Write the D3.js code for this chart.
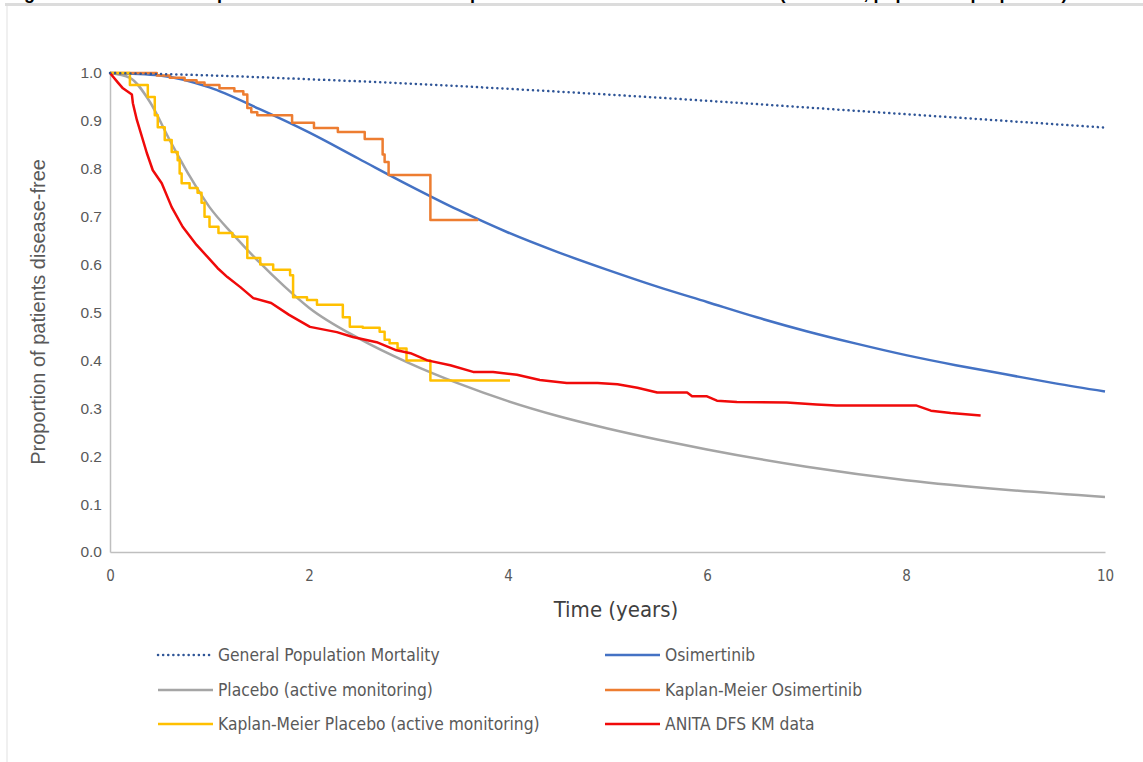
<!DOCTYPE html>
<html><head><meta charset="utf-8">
<script src="https://cdn.jsdelivr.net/npm/d3@7"></script>
<style>
html,body{margin:0;padding:0;background:#fff;}
svg{display:block;}
</style></head>
<body>
<svg id="chart" width="1143" height="762"></svg>
<script>
// ---- data ----
const titleText = "Figure 19: Survival extrapolations for osimertinib and placebo versus ANITA DFS KM data (ADAURA, population proportion)";
const xTicks = [0, 2, 4, 6, 8, 10];
const yTicks = [0, 0.1, 0.2, 0.3, 0.4, 0.5, 0.6, 0.7, 0.8, 0.9, 1.0];

const genPopT = [0, 1, 2, 3, 4, 5, 6, 7, 8, 9, 10];
const genPopS = [1.0, 0.995, 0.987, 0.978, 0.967, 0.955, 0.942, 0.928, 0.914, 0.9, 0.886];

const osiT = [0, 0.5, 1, 1.5, 2, 2.5, 3, 3.5, 4, 4.5, 5, 5.5, 6, 6.5, 7, 7.5, 8, 8.5, 9, 9.5, 10];
const osiS = [1.0, 0.995, 0.97, 0.925, 0.876, 0.821, 0.766, 0.714, 0.667, 0.626, 0.589, 0.554, 0.522, 0.49, 0.461, 0.435, 0.411, 0.39, 0.371, 0.352, 0.335];

const pboT = [0, 0.2, 0.4, 0.6, 0.8, 1, 1.25, 1.5, 1.75, 2, 2.5, 3, 3.5, 4, 4.5, 5, 5.5, 6, 7, 8, 9, 10];
const pboS = [1.0, 0.99, 0.94, 0.86, 0.785, 0.72, 0.66, 0.605, 0.555, 0.51, 0.446, 0.395, 0.352, 0.315, 0.284, 0.258, 0.235, 0.214, 0.178, 0.15, 0.13, 0.115];

const kmOsiT = [0, 0.47, 0.6, 0.75, 0.87, 0.95, 1.1, 1.25, 1.34, 1.38, 1.42, 1.48, 1.83, 2.05, 2.29, 2.56, 2.74, 2.76, 2.8, 3.22, 3.7];
const kmOsiS = [1.0, 0.995, 0.99, 0.985, 0.98, 0.975, 0.968, 0.962, 0.955, 0.927, 0.918, 0.912, 0.896, 0.885, 0.877, 0.862, 0.83, 0.814, 0.787, 0.693, 0.693];

const kmPboT = [0, 0.2, 0.38, 0.45, 0.48, 0.55, 0.62, 0.68, 0.7, 0.72, 0.8, 0.88, 0.92, 0.95, 1.0, 1.09, 1.23, 1.38, 1.51, 1.64, 1.81, 1.84, 1.98, 2.08, 2.34, 2.41, 2.54, 2.71, 2.76, 2.81, 2.89, 2.98, 3.22, 4.02];
const kmPboS = [1.0, 0.975, 0.95, 0.912, 0.887, 0.86, 0.835, 0.818, 0.79, 0.77, 0.76, 0.75, 0.729, 0.70, 0.679, 0.666, 0.658, 0.614, 0.6, 0.589, 0.578, 0.532, 0.526, 0.516, 0.49, 0.47, 0.468, 0.46, 0.443, 0.436, 0.425, 0.40, 0.358, 0.358];

const anitaT = [0, 0.08, 0.13, 0.22, 0.23, 0.27, 0.37, 0.43, 0.52, 0.62, 0.73, 0.87, 0.98, 1.08, 1.18, 1.31, 1.44, 1.62, 1.8, 2.01, 2.28, 2.44, 2.68, 2.88, 3.02, 3.19, 3.42, 3.65, 3.85, 4.09, 4.32, 4.59, 4.9, 5.1, 5.3, 5.5, 5.8, 5.85, 6.0, 6.1, 6.3, 6.8, 7.1, 7.3, 8.1, 8.25, 8.45, 8.75];
const anitaS = [1.0, 0.98, 0.968, 0.955, 0.937, 0.902, 0.833, 0.797, 0.77, 0.72, 0.679, 0.641, 0.616, 0.593, 0.574, 0.553, 0.53, 0.52, 0.495, 0.47, 0.459, 0.449, 0.438, 0.421, 0.415, 0.40, 0.39, 0.376, 0.376, 0.37, 0.359, 0.353, 0.353, 0.35, 0.343, 0.333, 0.333, 0.325, 0.325, 0.316, 0.313, 0.312, 0.308, 0.306, 0.306, 0.295, 0.29, 0.285];

const seriesNames = ["General Population Mortality", "Osimertinib", "Placebo (active monitoring)", "Kaplan-Meier Osimertinib", "Kaplan-Meier Placebo (active monitoring)", "ANITA DFS KM data"];
const seriesColors = ["#2F5597", "#4472C4", "#A5A5A5", "#ED7D31", "#FFC000", "#F00A0A"];

// ---- drawing ----
const svg = d3.select("#chart");
const font = "'Liberation Sans Narrow', 'DejaVu Sans Condensed', 'Liberation Sans', sans-serif";

// frame
svg.append("line").attr("x1", 5).attr("x2", 1143).attr("y1", 4.5).attr("y2", 4.5).attr("stroke", "#dcdcdc").attr("stroke-width", 3);
svg.append("line").attr("x1", 7).attr("x2", 7).attr("y1", 6).attr("y2", 762).attr("stroke", "#e6e6e6").attr("stroke-width", 1.2);

// title (cut off at the top edge, as in the source image)
svg.append("text").attr("x", 8).attr("y", -1)
  .attr("font-family", "'Liberation Sans', Arial, sans-serif").attr("font-weight", "bold").attr("font-size", 18)
  .attr("fill", "#000").text(titleText);

const x = d3.scaleLinear().domain([0, 10]).range([110, 1105]);
const y = d3.scaleLinear().domain([0, 1]).range([552, 73]);

// axes
const xAxis = svg.append("g").attr("transform", "translate(0,552)")
  .call(d3.axisBottom(x).tickValues(xTicks).tickSize(0).tickPadding(18).tickFormat(d3.format("d")));
xAxis.select(".domain").attr("stroke", "#bfbfbf").attr("stroke-width", 1.5);
xAxis.selectAll("text").attr("font-family", font).attr("font-size", 15).attr("fill", "#595959");

const yAxis = svg.append("g").attr("transform", "translate(110,0)")
  .call(d3.axisLeft(y).tickValues(yTicks).tickSize(0).tickPadding(8).tickFormat(d3.format(".1f")));
yAxis.select(".domain").attr("stroke", "#bfbfbf").attr("stroke-width", 1.5);
yAxis.selectAll("text").attr("font-family", "'Liberation Sans', Arial, sans-serif").attr("font-size", 15.5).attr("fill", "#595959");

// axis titles
svg.append("text").attr("x", 616).attr("y", 617).attr("text-anchor", "middle")
  .attr("font-family", font).attr("font-size", 22).attr("fill", "#404040").text("Time (years)");
svg.append("text").attr("transform", "translate(45,312) rotate(-90)").attr("text-anchor", "middle")
  .attr("font-family", "'Liberation Sans', Arial, sans-serif").attr("font-size", 20).attr("fill", "#595959")
  .text("Proportion of patients disease-free");

// series
function pts(ts, ss) { return ts.map((t, i) => [t, ss[i]]); }
const lineLin = d3.line().x(d => x(d[0])).y(d => y(d[1])).curve(d3.curveLinear);
const lineStep = d3.line().x(d => x(d[0])).y(d => y(d[1])).curve(d3.curveStepAfter);
const lineSmooth = d3.line().x(d => x(d[0])).y(d => y(d[1])).curve(d3.curveMonotoneX);

const plot = svg.append("g").attr("fill", "none").attr("stroke-linejoin", "round");

plot.append("path").attr("d", lineSmooth(pts(pboT, pboS))).attr("stroke", seriesColors[2]).attr("stroke-width", 2.5);
plot.append("path").attr("d", lineSmooth(pts(osiT, osiS))).attr("stroke", seriesColors[1]).attr("stroke-width", 2.5);
plot.append("path").attr("d", lineStep(pts(kmOsiT, kmOsiS))).attr("stroke", seriesColors[3]).attr("stroke-width", 2.5);
plot.append("path").attr("d", lineStep(pts(kmPboT, kmPboS))).attr("stroke", seriesColors[4]).attr("stroke-width", 2.5);
plot.append("path").attr("d", lineLin(pts(anitaT, anitaS))).attr("stroke", seriesColors[5]).attr("stroke-width", 2.5);
plot.append("path").attr("d", lineSmooth(pts(genPopT, genPopS))).attr("stroke", seriesColors[0]).attr("stroke-width", 2.5)
  .attr("stroke-dasharray", "0.1,5").attr("stroke-linecap", "round");

// legend
const legendPos = [
  {x: 158, y: 655}, {x: 605, y: 655},
  {x: 158, y: 690}, {x: 605, y: 690},
  {x: 158, y: 724}, {x: 605, y: 724}
];
const lg = svg.append("g");
seriesNames.forEach((name, i) => {
  const p = legendPos[i];
  const ln = lg.append("line").attr("x1", p.x).attr("x2", p.x + 55).attr("y1", p.y).attr("y2", p.y)
    .attr("stroke", seriesColors[i]).attr("stroke-width", 2.5);
  if (i === 0) ln.attr("stroke-dasharray", "0.1,5").attr("stroke-linecap", "round");
  lg.append("text").attr("x", p.x + 60).attr("y", p.y + 6)
    .attr("font-family", font).attr("font-size", 17.3).attr("fill", "#595959").text(name);
});
</script>
</body></html>
